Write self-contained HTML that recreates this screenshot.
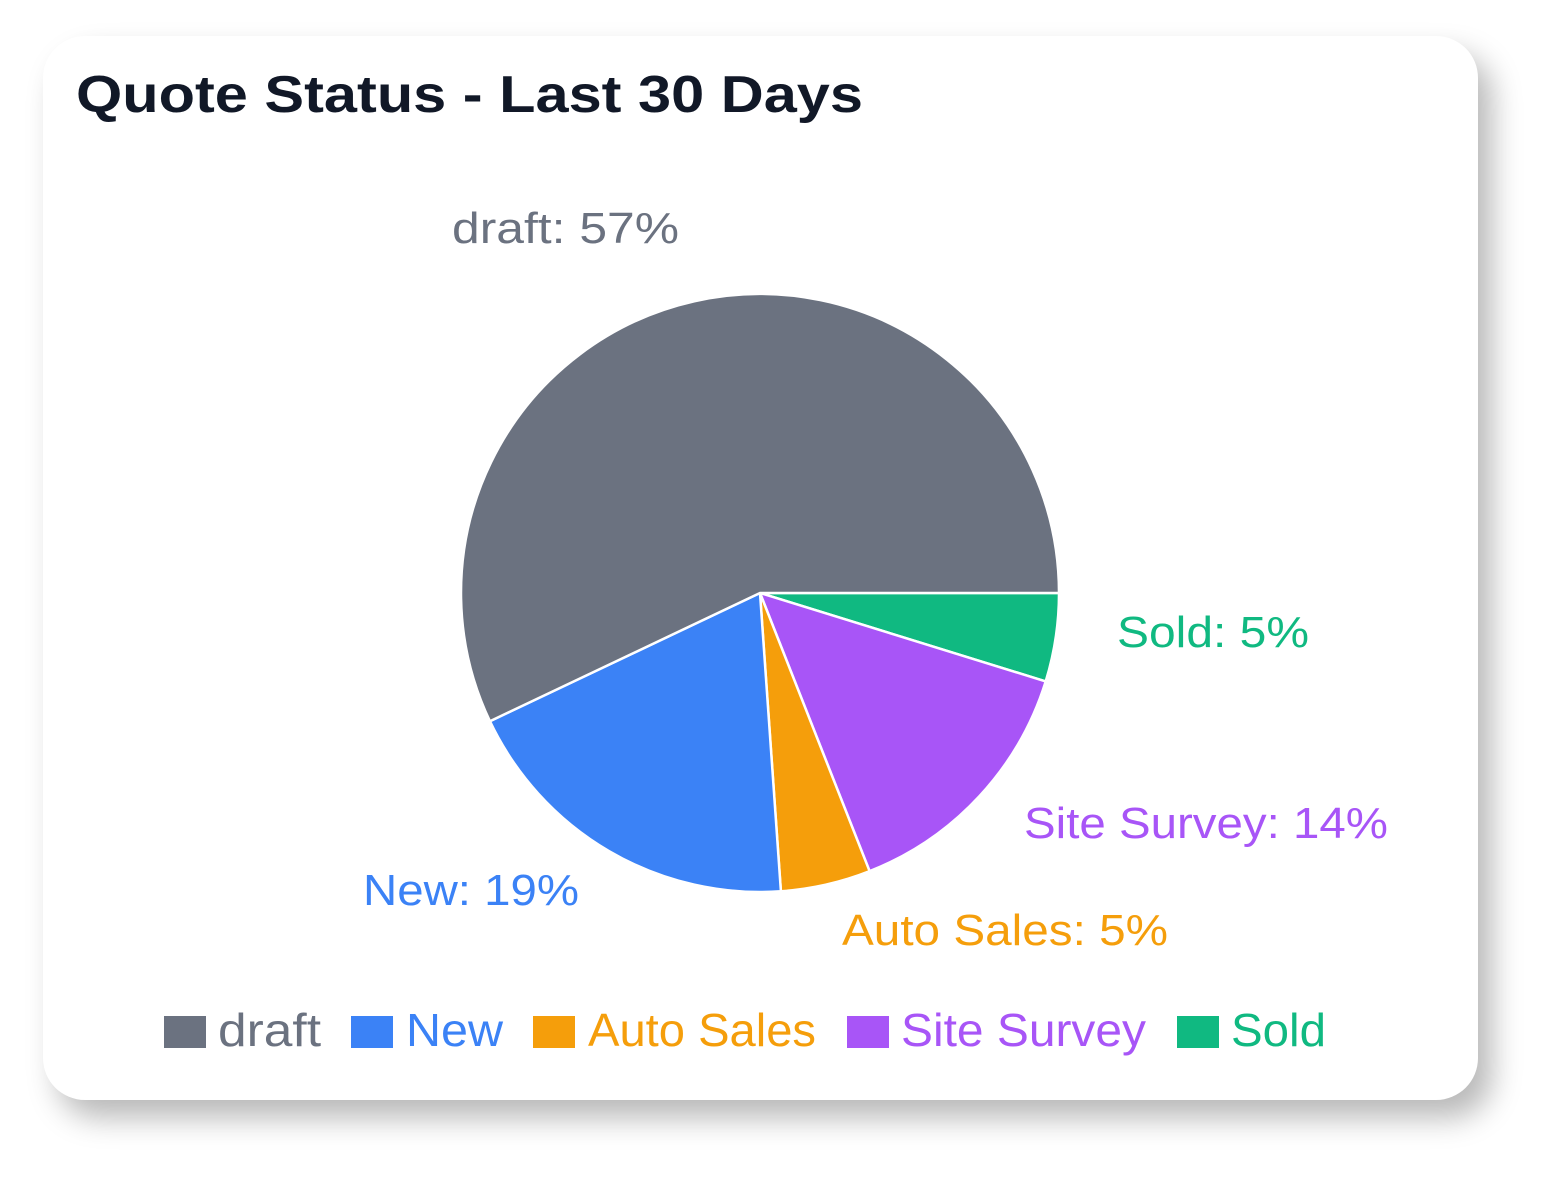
<!DOCTYPE html>
<html><head><meta charset="utf-8"><style>
html,body{margin:0;padding:0;background:#fff;width:1568px;height:1193px;overflow:hidden}
.card{position:absolute;left:43px;top:36px;width:1435px;height:1064px;background:#fff;border-radius:42px;box-shadow:14px 18px 30px rgba(0,0,0,0.28)}
svg{position:absolute;left:0;top:0}
text{font-family:"Liberation Sans",Arial,sans-serif}
</style></head><body>
<div class="card"></div>
<svg width="1568" height="1193" viewBox="0 0 1568 1193">
<text x="76" y="112" font-size="52" font-weight="bold" fill="#111827" textLength="787" lengthAdjust="spacingAndGlyphs">Quote Status - Last 30 Days</text>
<g stroke="#fff" stroke-width="2.5" stroke-linejoin="round">
<path d="M760,593 L1059,593 A299,299 0 0 1 1045.7,681.4 Z" fill="#10b981"/>
<path d="M760,593 L1045.7,681.4 A299,299 0 0 1 869.6,871.2 Z" fill="#a855f7"/>
<path d="M760,593 L869.6,871.2 A299,299 0 0 1 780.9,891.3 Z" fill="#f59e0b"/>
<path d="M760,593 L780.9,891.3 A299,299 0 0 1 489.9,721.2 Z" fill="#3b82f6"/>
<path d="M760,593 L489.9,721.2 A299,299 0 1 1 1059,593 Z" fill="#6b7280"/>
</g>
<g font-size="44">
<text x="452" y="243" fill="#6b7280" textLength="227" lengthAdjust="spacingAndGlyphs">draft: 57%</text>
<text x="1117" y="647" fill="#10b981" textLength="192" lengthAdjust="spacingAndGlyphs">Sold: 5%</text>
<text x="1024" y="838" fill="#a855f7" textLength="364" lengthAdjust="spacingAndGlyphs">Site Survey: 14%</text>
<text x="363" y="905" fill="#3b82f6" textLength="216" lengthAdjust="spacingAndGlyphs">New: 19%</text>
<text x="842" y="945" fill="#f59e0b" textLength="326" lengthAdjust="spacingAndGlyphs">Auto Sales: 5%</text>
</g>
<g font-size="46">
<rect x="164" y="1016" width="42" height="32" fill="#6b7280"/>
<text x="218" y="1046" fill="#6b7280" textLength="103" lengthAdjust="spacingAndGlyphs">draft</text>
<rect x="351" y="1016" width="42" height="32" fill="#3b82f6"/>
<text x="406" y="1046" fill="#3b82f6" textLength="97" lengthAdjust="spacingAndGlyphs">New</text>
<rect x="533" y="1016" width="42" height="32" fill="#f59e0b"/>
<text x="588" y="1046" fill="#f59e0b" textLength="228" lengthAdjust="spacingAndGlyphs">Auto Sales</text>
<rect x="847" y="1016" width="42" height="32" fill="#a855f7"/>
<text x="901" y="1046" fill="#a855f7" textLength="245" lengthAdjust="spacingAndGlyphs">Site Survey</text>
<rect x="1177" y="1016" width="42" height="32" fill="#10b981"/>
<text x="1231" y="1046" fill="#10b981" textLength="95" lengthAdjust="spacingAndGlyphs">Sold</text>
</g>
</svg>
</body></html>
